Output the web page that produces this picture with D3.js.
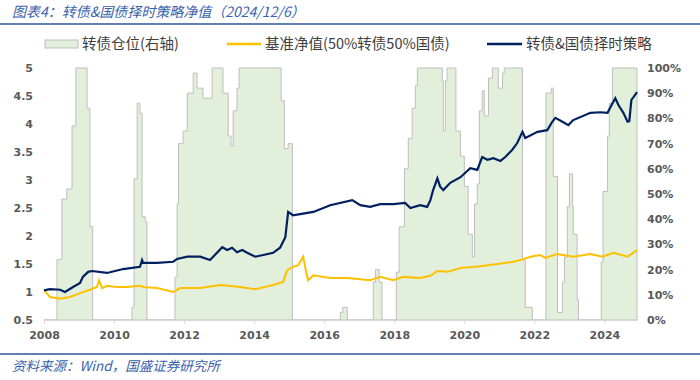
<!DOCTYPE html>
<html>
<head>
<meta charset="utf-8">
<script src="https://cdn.jsdelivr.net/npm/d3@7"></script>
<style>
  body { margin: 0; background: #fff; }
  svg { display: block; }
</style>
</head>
<body>
<div id="chart"></div>
<script>
// 700x380 chart, dates kept as decimal years
var width = 700,
    height = 380,
    margin = {top: 68, right: 63, bottom: 60, left: 44}

// 转债仓位 (right axis, %), step changes: [year, value]
var posYears = [2008.0, 2008.37, 2008.51, 2008.65, 2008.80, 2008.91, 2009.23, 2009.31, 2009.39,
  2010.51, 2010.57, 2010.66, 2010.74, 2010.80, 2010.89, 2010.94,
  2011.74, 2011.80, 2011.84, 2011.97, 2012.09, 2012.26, 2012.37, 2012.54, 2012.80, 2013.11,
  2013.26, 2013.34, 2013.40, 2013.51, 2013.57, 2014.77, 2014.86, 2014.97, 2015.09,
  2016.46, 2016.53, 2016.66, 2017.40, 2017.46, 2017.57, 2017.65,
  2018.06, 2018.14, 2018.29, 2018.40, 2018.51, 2018.60, 2018.66, 2019.37, 2019.40, 2019.46,
  2019.51, 2019.76, 2019.89, 2020.00, 2020.11, 2020.23, 2020.29, 2020.37, 2020.43, 2020.51,
  2020.57, 2020.69, 2020.80, 2020.97, 2021.09, 2021.14, 2021.66, 2021.74, 2021.94,
  2022.33, 2022.48, 2022.54, 2022.66, 2022.80, 2022.86, 2022.94, 2023.00, 2023.09, 2023.11,
  2023.22, 2023.26, 2023.91, 2023.96, 2024.09, 2024.14, 2024.23, 2024.93]
var posValues = [0, 24, 48, 52, 77, 100, 84, 37, 0,
  5, 56, 86, 82, 41, 39, 0,
  17, 46, 70, 75, 90, 98, 92, 88, 100, 90,
  73, 69, 83, 92, 100, 87, 68, 70, 0,
  3, 5, 0, 15, 20, 15, 0,
  19, 37, 60, 72, 84, 93, 100, 95, 75, 95,
  100, 75, 65, 53, 34, 25, 46, 54, 83, 91,
  81, 96, 100, 92, 98, 100, 24, 5, 0,
  90, 92, 57, 3, 15, 25, 45, 58, 45, 34,
  8, 0, 23, 51, 73, 86, 100, 100]

// 基准净值(50%转债50%国债)
var benchYears = [2008.0, 2008.17, 2008.46, 2008.74, 2009.03, 2009.31, 2009.51, 2009.57, 2009.66, 2009.8,
  2010.09, 2010.37, 2010.74, 2010.83, 2011.23, 2011.69, 2011.89, 2012.46, 2013.03, 2013.6,
  2014.03, 2014.54, 2014.83, 2014.94, 2015.11, 2015.26, 2015.4, 2015.49, 2015.54, 2015.69,
  2016.17, 2016.66, 2017.31, 2017.6, 2017.97, 2018.26, 2018.74, 2019.03, 2019.23, 2019.51,
  2019.89, 2020.46, 2020.94, 2021.4, 2021.6, 2021.89, 2022.17, 2022.31, 2022.66, 2023.11,
  2023.6, 2023.94, 2024.26, 2024.66, 2024.93]
var benchValues = [1.04, 0.91, 0.88, 0.91, 0.98, 1.04, 1.09, 1.21, 1.07, 1.11,
  1.09, 1.09, 1.11, 1.09, 1.07, 1.0, 1.07, 1.07, 1.125, 1.09,
  1.05, 1.125, 1.18, 1.39, 1.45, 1.48, 1.63, 1.34, 1.21, 1.30,
  1.25, 1.25, 1.21, 1.27, 1.21, 1.27, 1.25, 1.29, 1.375, 1.36,
  1.43, 1.46, 1.5, 1.54, 1.57, 1.63, 1.66, 1.61, 1.68, 1.63,
  1.68, 1.63, 1.70, 1.63, 1.75]

// 转债&国债择时策略
var stratYears = [2008.0, 2008.17, 2008.46, 2008.6, 2008.83, 2009.03, 2009.11, 2009.26, 2009.37, 2009.8,
  2010.26, 2010.74, 2010.8, 2010.83, 2011.23, 2011.69, 2011.8, 2012.09, 2012.46, 2012.74,
  2013.09, 2013.23, 2013.37, 2013.51, 2013.66, 2013.8, 2014.03, 2014.26, 2014.54, 2014.74,
  2014.89, 2014.97, 2015.11, 2015.31, 2015.69, 2016.17, 2016.8, 2017.03, 2017.31, 2017.6,
  2017.97, 2018.31, 2018.46, 2018.74, 2018.94, 2019.03, 2019.11, 2019.23, 2019.31, 2019.4,
  2019.6, 2019.89, 2020.17, 2020.37, 2020.51, 2020.66, 2020.83, 2021.03, 2021.17, 2021.37,
  2021.51, 2021.66, 2021.74, 2022.09, 2022.37, 2022.51, 2022.6, 2022.8, 2022.97, 2023.11,
  2023.6, 2023.89, 2024.09, 2024.17, 2024.31, 2024.4, 2024.54, 2024.66, 2024.71, 2024.77,
  2024.83, 2024.93]
var stratValues = [1.03, 1.05, 1.04, 1.0, 1.09, 1.16, 1.27, 1.36, 1.375, 1.34,
  1.41, 1.45, 1.57, 1.52, 1.52, 1.54, 1.59, 1.63, 1.63, 1.57,
  1.80, 1.75, 1.79, 1.71, 1.75, 1.70, 1.63, 1.66, 1.70, 1.79,
  1.98, 2.43, 2.37, 2.39, 2.43, 2.55, 2.64, 2.55, 2.52, 2.57,
  2.57, 2.59, 2.50, 2.55, 2.52, 2.64, 2.82, 3.03, 2.88, 2.82,
  2.95, 3.05, 3.21, 3.18, 3.41, 3.36, 3.39, 3.34, 3.41, 3.54,
  3.66, 3.86, 3.75, 3.86, 3.89, 4.04, 4.11, 4.04, 3.98, 4.07,
  4.20, 4.21, 4.20, 4.30, 4.46, 4.34, 4.20, 4.04, 4.05, 4.43,
  4.48, 4.57]

var leftTicks = [0.5, 1, 1.5, 2, 2.5, 3, 3.5, 4, 4.5, 5]
var rightTicks = [0, 10, 20, 30, 40, 50, 60, 70, 80, 90, 100]
var yearTicks = [2008, 2010, 2012, 2014, 2016, 2018, 2020, 2022, 2024]

var svg = d3.select("#chart")
  .append("svg")
    .attr("width", width)
    .attr("height", height)

var x = d3.scaleLinear()
  .domain([2008, 2024.93])
  .range([margin.left, width - margin.right])
var yL = d3.scaleLinear()
  .domain([0.5, 5])
  .range([height - margin.bottom, margin.top])
var yR = d3.scaleLinear()
  .domain([0, 100])
  .range([height - margin.bottom, margin.top])

var tickFont = "'DejaVu Sans', sans-serif"
var cjkFont = "'Noto Sans CJK SC', sans-serif"
var blue = "#2f5597"

// title
svg.append("text")
  .attr("x", 12)
  .attr("y", 17)
  .style("font-family", cjkFont)
  .style("font-size", "14px")
  .style("font-style", "italic")
  .style("fill", "#3a62ad")
  .text("图表4：转债&国债择时策略净值（2024/12/6）")
svg.append("line")
  .attr("x1", 0).attr("x2", width)
  .attr("y1", 24).attr("y2", 24)
  .attr("stroke", blue)
  .attr("stroke-width", 1.5)

// position area (right axis)
var posData = posYears.map(function(d, i) { return [d, posValues[i]] })
var area = d3.area()
  .curve(d3.curveStepAfter)
  .x(function(d) { return x(d[0]) })
  .y0(yR(0))
  .y1(function(d) { return yR(d[1]) })
svg.append("path")
  .datum(posData)
  .attr("d", area)
  .attr("fill", "#e2efda")
  .attr("stroke", "#bfbfbf")
  .attr("stroke-width", 1)

// x axis
var xAxis = svg.append("g")
  .attr("transform", "translate(0," + yL(0.5) + ")")
  .call(d3.axisBottom(x).tickValues(yearTicks).tickFormat(d3.format("d")).tickSize(4).tickSizeOuter(0))
xAxis.select(".domain").attr("stroke", "#d9d9d9")
xAxis.selectAll(".tick line").attr("stroke", "#d9d9d9")
xAxis.selectAll(".tick text")
  .attr("dy", "1.05em")
  .style("font-family", tickFont)
  .style("font-size", "11px")
  .style("font-weight", "bold")
  .style("fill", "#595959")

// left axis
var leftAxis = svg.append("g")
  .attr("transform", "translate(" + margin.left + ",0)")
  .call(d3.axisLeft(yL).tickValues(leftTicks).tickFormat(d3.format("")).tickSize(0).tickPadding(11))
leftAxis.select(".domain").remove()
leftAxis.selectAll(".tick text")
  .style("font-family", tickFont)
  .style("font-size", "11px")
  .style("font-weight", "bold")
  .style("fill", "#595959")

// right axis
var rightAxis = svg.append("g")
  .attr("transform", "translate(" + (width - margin.right) + ",0)")
  .call(d3.axisRight(yR).tickValues(rightTicks).tickFormat(function(d) { return d + "%" }).tickSize(0).tickPadding(10))
rightAxis.select(".domain").remove()
rightAxis.selectAll(".tick text")
  .style("font-family", tickFont)
  .style("font-size", "11px")
  .style("font-weight", "bold")
  .style("fill", "#595959")

// lines
var line = d3.line()
  .x(function(d) { return x(d[0]) })
  .y(function(d) { return yL(d[1]) })
svg.append("path")
  .datum(benchYears.map(function(d, i) { return [d, benchValues[i]] }))
  .attr("d", line)
  .attr("fill", "none")
  .attr("stroke", "#ffc000")
  .attr("stroke-width", 2)
svg.append("path")
  .datum(stratYears.map(function(d, i) { return [d, stratValues[i]] }))
  .attr("d", line)
  .attr("fill", "none")
  .attr("stroke", "#002060")
  .attr("stroke-width", 2.2)

// legend
var legend = svg.append("g")
legend.append("rect")
  .attr("x", 45).attr("y", 40).attr("width", 33).attr("height", 8)
  .attr("fill", "#e2efda").attr("stroke", "#bfbfbf")
legend.append("line")
  .attr("x1", 227).attr("x2", 261).attr("y1", 44).attr("y2", 44)
  .attr("stroke", "#ffc000").attr("stroke-width", 2.5)
legend.append("line")
  .attr("x1", 487).attr("x2", 522).attr("y1", 44).attr("y2", 44)
  .attr("stroke", "#002060").attr("stroke-width", 2.5)
var legendItems = [[82, "转债仓位(右轴)"], [265, "基准净值(50%转债50%国债)"], [526, "转债&国债择时策略"]]
legend.selectAll("text.lg")
  .data(legendItems)
  .enter()
  .append("text")
    .attr("class", "lg")
    .attr("x", function(d) { return d[0] })
    .attr("y", 49)
    .style("font-family", cjkFont)
    .style("font-size", "14.5px")
    .style("fill", "#404040")
    .text(function(d) { return d[1] })

// footer
svg.append("line")
  .attr("x1", 0).attr("x2", width)
  .attr("y1", 354).attr("y2", 354)
  .attr("stroke", blue)
  .attr("stroke-width", 1.5)
svg.append("text")
  .attr("x", 12)
  .attr("y", 371)
  .style("font-family", cjkFont)
  .style("font-size", "13.5px")
  .style("font-style", "italic")
  .style("fill", "#3a62ad")
  .text("资料来源：Wind，国盛证券研究所")
</script>
</body>
</html>
